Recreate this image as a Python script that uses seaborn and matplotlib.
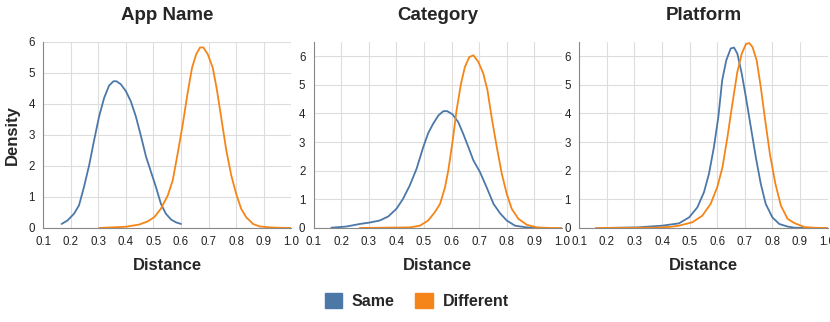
import pandas as pd
import numpy as np
import matplotlib
matplotlib.use('Agg')
import matplotlib.pyplot as plt
import seaborn as sns
from matplotlib.patches import Patch
from matplotlib.ticker import FormatStrFormatter, MultipleLocator

# curves (distance, density)
app_same_x = [0.167, 0.188, 0.212, 0.23, 0.248, 0.267, 0.285, 0.303, 0.321, 0.339, 0.355, 0.366, 0.382, 0.40,
              0.418, 0.436, 0.455, 0.473, 0.491, 0.509, 0.527, 0.545, 0.564, 0.582, 0.60]
app_same_y = [0.13, 0.24, 0.46, 0.73, 1.32, 2.03, 2.84, 3.6, 4.19, 4.59, 4.73, 4.73, 4.63, 4.41,
              4.08, 3.6, 2.95, 2.3, 1.81, 1.32, 0.78, 0.46, 0.27, 0.18, 0.13]
app_diff_x = [0.303, 0.40, 0.448, 0.479, 0.503, 0.527, 0.552, 0.57, 0.588, 0.606, 0.624, 0.64, 0.655, 0.669, 0.681,
              0.697, 0.715, 0.73, 0.745, 0.764, 0.782, 0.80, 0.818, 0.836, 0.861, 0.885, 0.921, 0.96, 1.0]
app_diff_y = [0.0, 0.04, 0.11, 0.21, 0.35, 0.62, 1.05, 1.54, 2.41, 3.33, 4.36, 5.17, 5.6, 5.82, 5.82,
              5.6, 5.17, 4.46, 3.6, 2.51, 1.7, 1.1, 0.62, 0.35, 0.13, 0.05, 0.02, 0.005, 0.0]

cat_same_x = [0.164, 0.218, 0.267, 0.303, 0.339, 0.37, 0.40, 0.424, 0.448, 0.473, 0.497, 0.515, 0.533, 0.552, 0.57,
              0.584, 0.603, 0.624, 0.642, 0.661, 0.679, 0.703, 0.727, 0.752, 0.776, 0.80, 0.83, 0.873, 0.933]
cat_same_y = [0.01, 0.05, 0.14, 0.19, 0.26, 0.4, 0.67, 1.02, 1.48, 2.07, 2.82, 3.31, 3.64, 3.93, 4.08,
              4.08, 3.97, 3.7, 3.29, 2.82, 2.36, 1.95, 1.42, 0.84, 0.51, 0.26, 0.08, 0.02, 0.0]
cat_diff_x = [0.267, 0.448, 0.485, 0.515, 0.539, 0.558, 0.576, 0.588, 0.604, 0.618, 0.634, 0.648, 0.664, 0.679,
              0.697, 0.715, 0.73, 0.745, 0.764, 0.782, 0.80, 0.818, 0.842, 0.873, 0.909, 0.958, 1.0]
cat_diff_y = [0.0, 0.02, 0.08, 0.26, 0.55, 0.84, 1.42, 2.01, 3.06, 4.11, 5.04, 5.62, 5.97, 6.03,
              5.8, 5.39, 4.81, 3.87, 2.82, 1.89, 1.19, 0.67, 0.32, 0.11, 0.02, 0.0, 0.0]

plat_same_x = [0.19, 0.31, 0.40, 0.43, 0.461, 0.498, 0.528, 0.552, 0.57, 0.588, 0.604, 0.618, 0.633, 0.649, 0.661,
               0.673, 0.689, 0.704, 0.722, 0.74, 0.758, 0.776, 0.80, 0.825, 0.855, 0.88, 0.92]
plat_same_y = [0.0, 0.02, 0.08, 0.12, 0.16, 0.37, 0.72, 1.25, 1.89, 2.82, 3.87, 5.16, 5.86, 6.27, 6.3,
               6.09, 5.39, 4.57, 3.52, 2.47, 1.54, 0.84, 0.37, 0.14, 0.05, 0.01, 0.0]
plat_diff_x = [0.16, 0.375, 0.43, 0.461, 0.51, 0.546, 0.576, 0.60, 0.619, 0.637, 0.655, 0.673, 0.689, 0.704, 0.716,
               0.728, 0.743, 0.758, 0.774, 0.791, 0.811, 0.831, 0.855, 0.88, 0.917, 0.96, 1.0]
plat_diff_y = [0.0, 0.01, 0.04, 0.08, 0.2, 0.43, 0.84, 1.42, 2.12, 3.17, 4.34, 5.45, 6.09, 6.42, 6.46,
               6.32, 5.86, 4.92, 3.76, 2.59, 1.54, 0.78, 0.32, 0.17, 0.03, 0.005, 0.0]

titles = ['App Name', 'Category', 'Platform']
series = ['Same', 'Different']
colors = {'Same': '#4c78a8', 'Different': '#f58518'}
x_ticks = [0.1, 0.2, 0.3, 0.4, 0.5, 0.6, 0.7, 0.8, 0.9, 1.0]

panels = [
    (app_same_x, app_same_y, app_diff_x, app_diff_y, 6.0),
    (cat_same_x, cat_same_y, cat_diff_x, cat_diff_y, 6.5),
    (plat_same_x, plat_same_y, plat_diff_x, plat_diff_y, 6.5),
]

sns.set_style('white')
plt.rcParams['font.family'] = ['Liberation Sans', 'DejaVu Sans']

fig = plt.figure(figsize=(8.3, 3.22), dpi=100)
lefts = [0.052, 0.378, 0.698]
for i, (sx, sy, dx, dy, ytop) in enumerate(panels):
    ax = fig.add_axes([lefts[i], 0.292, 0.299, 0.578])
    df = pd.concat([
        pd.DataFrame({'Distance': sx, 'Density': sy, 'group': 'Same'}),
        pd.DataFrame({'Distance': dx, 'Density': dy, 'group': 'Different'}),
    ])
    sns.lineplot(data=df, x='Distance', y='Density', hue='group', palette=colors,
                 hue_order=series, ax=ax, legend=False, linewidth=1.3, sort=False,
                 solid_joinstyle='round')
    ax.set_xlim(0.1, 1.0)
    ax.set_ylim(0, ytop)
    ax.set_xticks(x_ticks)
    ax.xaxis.set_major_formatter(FormatStrFormatter('%.1f'))
    ax.yaxis.set_major_locator(MultipleLocator(1))
    ax.grid(True, color='#dddddd', linewidth=0.8)
    ax.set_axisbelow(True)
    for s in ['top', 'right']:
        ax.spines[s].set_visible(False)
    for s in ['left', 'bottom']:
        ax.spines[s].set_color('#888888')
        ax.spines[s].set_linewidth(0.8)
    ax.tick_params(axis='both', length=4, width=0.8, color='#888888',
                   labelsize=8.3, labelcolor='#222222', pad=2)
    ax.set_title(titles[i], fontsize=13.5, fontweight='bold', pad=16)
    ax.set_xlabel('Distance', fontsize=12, fontweight='bold', labelpad=7)
    if i == 0:
        ax.set_ylabel('Density', fontsize=12, fontweight='bold', labelpad=6)
    else:
        ax.set_ylabel('')

handles = [Patch(facecolor=colors[s], edgecolor=colors[s]) for s in series]
fig.legend(handles, series, loc='center', bbox_to_anchor=(0.502, 0.066), ncol=2,
           frameon=False, prop={'weight': 'bold', 'size': 11.5},
           handlelength=1.1, handleheight=1.1, columnspacing=1.3, handletextpad=0.6)

fig.savefig('out.png', dpi=100)
